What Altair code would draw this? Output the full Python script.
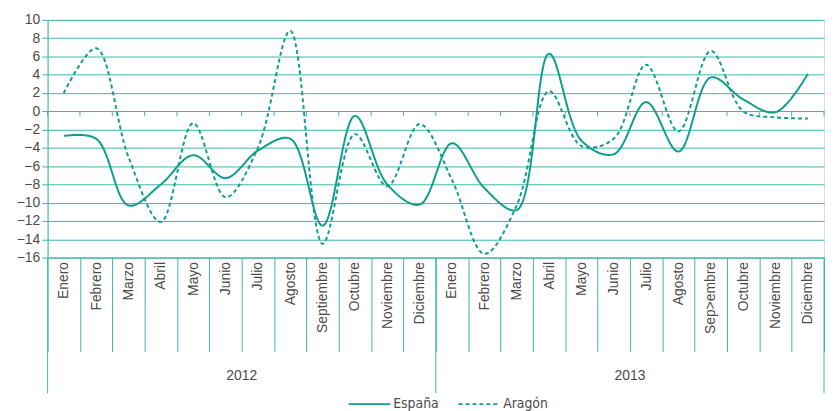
import altair as alt
import pandas as pd

months_2012 = ["Enero", "Febrero", "Marzo", "Abril", "Mayo", "Junio", "Julio",
               "Agosto", "Septiembre", "Octubre", "Noviembre", "Diciembre"]
months_2013 = ["Enero", "Febrero", "Marzo", "Abril", "Mayo", "Junio", "Julio",
               "Agosto", "Sep>embre", "Octubre", "Noviembre", "Diciembre"]
years = ["2012", "2013"]

espana = [-2.7, -3.0, -10.3, -8.0, -4.8, -7.3, -4.3, -3.0, -12.5, -0.5, -8.0, -10.2,
          -3.5, -8.4, -10.8, 6.3, -3.2, -4.7, 1.0, -4.4, 3.7, 1.3, -0.1, 4.1]
aragon = [2.0, 6.9, -5.0, -12.1, -1.3, -9.4, -4.0, 8.8, -14.5, -2.5, -8.2, -1.4,
          -7.5, -15.6, -10.3, 2.2, -3.8, -3.0, 5.1, -2.2, 6.6, 0.0, -0.65, -0.8]

series_names = ["España", "Aragón"]
y_ticks = list(range(-16, 11, 2))

TEAL_LINE = "#0e9e8e"
TEAL_GRID = "#3cb8aa"
TEXT = "#4a4a4a"
FONT = "Liberation Sans"
LEGEND_FONT = "'DejaVu Sans Condensed', 'Liberation Sans', sans-serif"

W, H = 784, 240
n = len(espana)
labels = months_2012 + months_2013

rows = []
for i in range(n):
    rows.append({"serie": series_names[0], "pos": i + 0.5, "valor": espana[i]})
    rows.append({"serie": series_names[1], "pos": i + 0.5, "valor": aragon[i]})
df = pd.DataFrame(rows)

label_map = "{" + ",".join(f"{i}:'{lab}'" for i, lab in enumerate(labels)) + "}"

x_scale = alt.Scale(domain=[0, n], nice=False, zero=False)
y_scale = alt.Scale(domain=[-16, 10], nice=False, zero=False)

TICK_LEN = 95
x_axis = alt.Axis(
    values=list(range(0, n + 1)),
    labelExpr=f"({label_map})[datum.value] || ''",
    labelAngle=-90,
    labelAlign="right",
    labelBaseline="middle",
    labelOffset=W / n / 2,
    labelFontSize=14,
    labelFont=FONT,
    labelColor=TEXT,
    labelPadding=4 - TICK_LEN,
    tickSize=TICK_LEN,
    tickColor=TEAL_GRID,
    domainColor=TEAL_GRID,
    grid=False,
    title=None,
    labelOverlap=False,
    labelBound=False,
    labelFlush=False,
)
y_axis = alt.Axis(
    values=y_ticks,
    labelFontSize=14,
    labelFont=FONT,
    labelColor=TEXT,
    labelOverlap=False,
    tickSize=6,
    tickColor=TEAL_GRID,
    domainColor=TEAL_GRID,
    gridColor=TEAL_GRID,
    gridOpacity=1,
    grid=True,
    title=None,
    labelPadding=2,
)

X = lambda f: alt.X(f, scale=x_scale, axis=x_axis)
Y = lambda f: alt.Y(f, scale=y_scale, axis=y_axis)

lines = alt.Chart(df).mark_line(
    interpolate="catmull-rom", strokeWidth=2, color=TEAL_LINE
).encode(
    x=X("pos:Q"),
    y=Y("valor:Q"),
    strokeDash=alt.StrokeDash(
        "serie:N",
        scale=alt.Scale(domain=series_names, range=[[1, 0], [4, 3]]),
        sort=series_names,
        legend=alt.Legend(
            title=None,
            orient="none",
            legendX=303,
            legendY=366,
            direction="horizontal",
            symbolType="stroke",
            symbolSize=1764,
            symbolStrokeWidth=2,
            symbolStrokeColor=TEAL_LINE,
            labelFontSize=14,
            labelFont=LEGEND_FONT,
            labelColor=TEXT,
            columnPadding=16,
            labelOffset=2,
        ),
    ),
    detail="serie:N",
)

# small ticks on the zero line
zero_ticks = pd.DataFrame({"pos": list(range(0, n + 1)), "y0": [0] * (n + 1), "y1": [-0.55] * (n + 1)})
zt = alt.Chart(zero_ticks).mark_rule(color=TEAL_GRID, strokeWidth=1).encode(
    x=X("pos:Q"),
    y=Y("y0:Q"),
    y2="y1:Q",
)

# year separators
year_sep = pd.DataFrame({"pos": [0, 12, 24]})
ys = alt.Chart(year_sep).mark_rule(color=TEAL_GRID, strokeWidth=1).encode(
    x=X("pos:Q"),
    y=alt.value(H),
    y2=alt.value(H + 137),
)

year_lab = pd.DataFrame({"pos": [6, 18], "year": years})
yl = alt.Chart(year_lab).mark_text(
    fontSize=14, font=FONT, color=TEXT, baseline="middle"
).encode(
    x=X("pos:Q"),
    y=alt.value(H + 120),
    text="year:N",
)

chart = alt.layer(zt, ys, yl, lines).properties(
    width=W, height=H,
    autosize=alt.AutoSizeParams(type="none"),
    padding={"left": 40, "top": 10, "right": 3, "bottom": 160},
).configure_view(stroke=None).configure(background="white")

chart.save("out.html", embed_options={"renderer": "svg", "actions": False})
